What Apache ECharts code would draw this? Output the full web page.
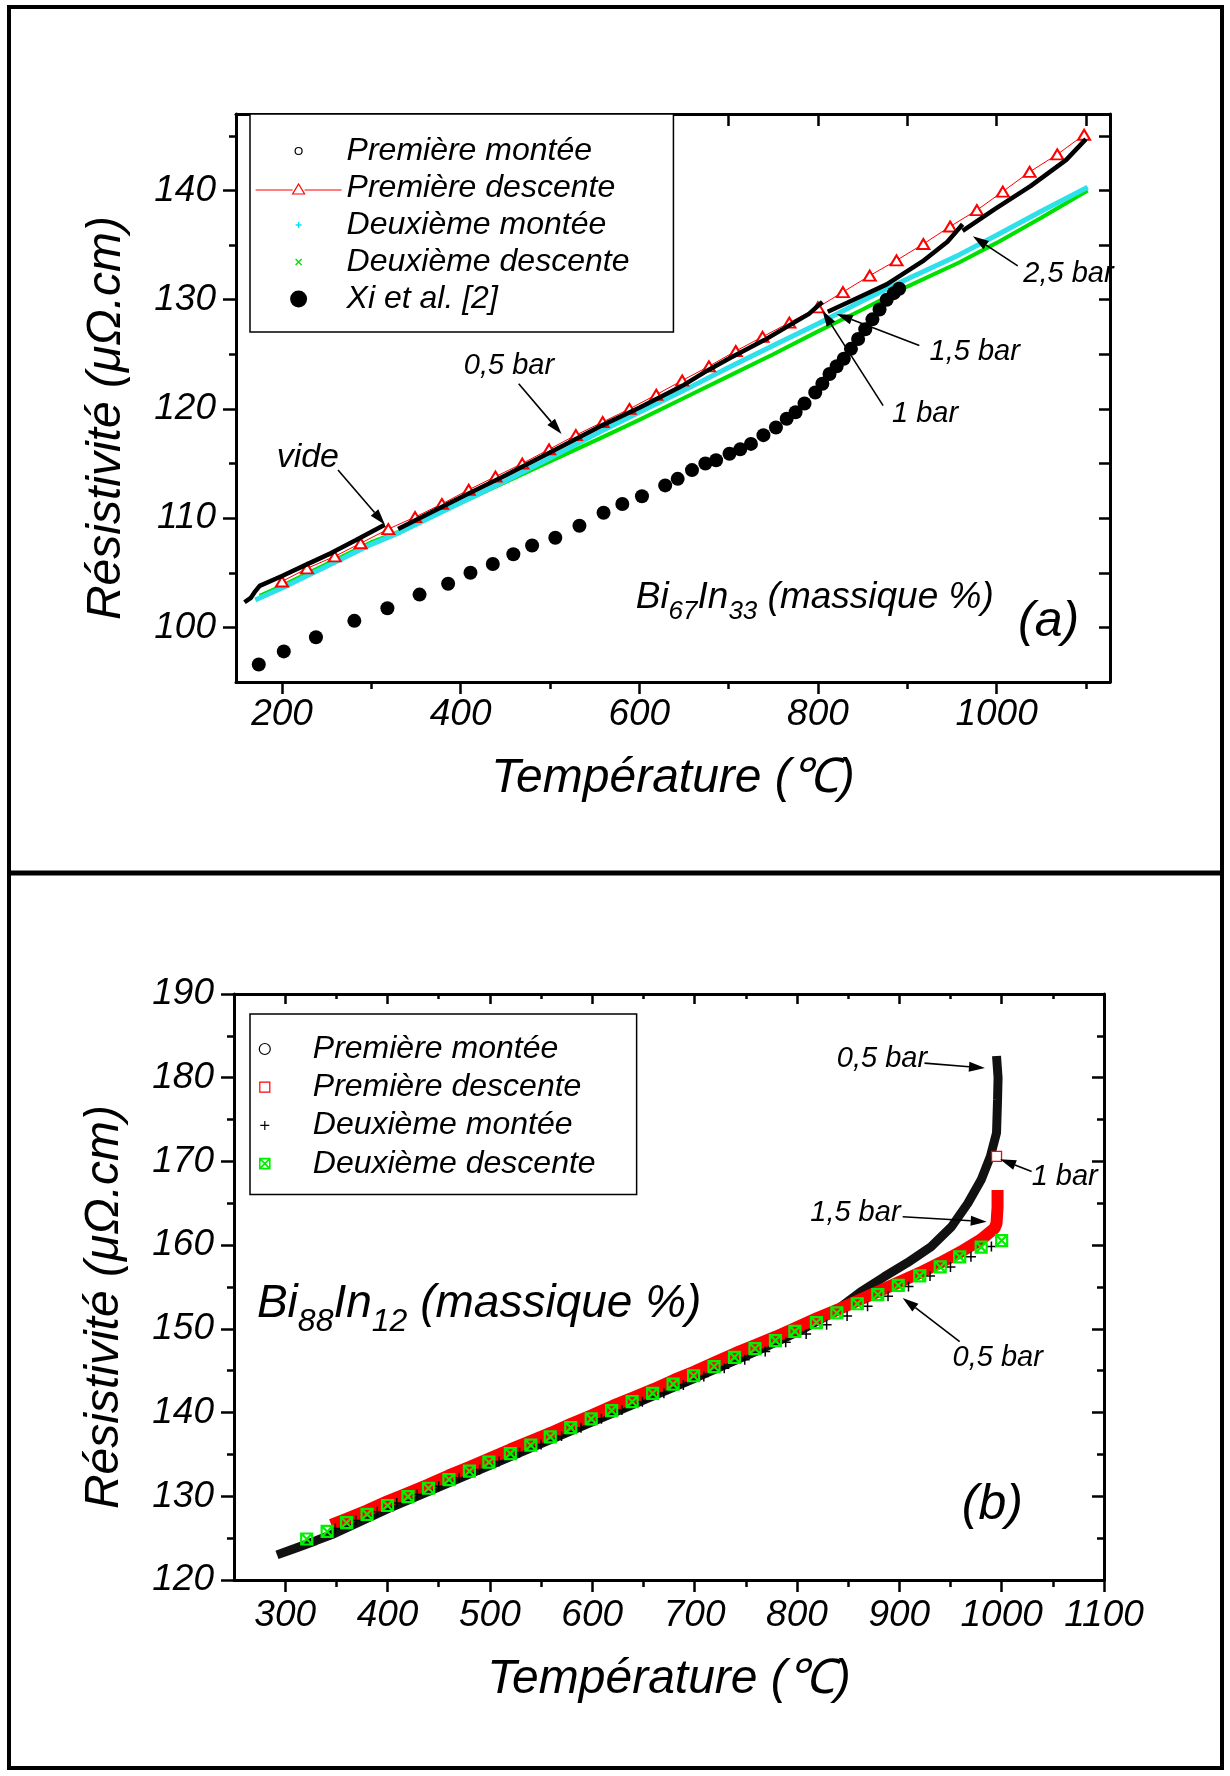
<!DOCTYPE html>
<html>
<head>
<meta charset="utf-8">
<title>Résistivité – Bi67In33 / Bi88In12</title>
<script src="https://cdn.jsdelivr.net/npm/echarts@6.0.0/dist/echarts.min.js"></script>
<style>
html,body{margin:0;padding:0;background:#fff;}
#chart{width:1230px;height:1776px;}
</style>
</head>
<body>
<div id="chart"></div>
<script>
// ================= DATA : panel (a) Bi67In33 =================
const aXMajor = [200, 400, 600, 800, 1000];
const aXMinor = [300, 500, 700, 900, 1100];
const aYMajor = [100, 110, 120, 130, 140];
const aYMinor = [105, 115, 125, 135, 145];

const aMontee1Seg1 = [[158,102.3],[165,102.7],[170,103.3],[175,103.8],[200,104.7],[226,105.7],[255,106.8],[283,108.0],[315,109.4]];
const aMontee1Seg2 = [[330,109.0],[400,111.9],[450,113.9],[500,116.0],[556,118.4],[600,120.1],[650,122.2],[676,123.5],[700,124.6],[740,126.3],[767,127.6],[790,128.7],[805,129.8]];
const aMontee1Seg3 = [[811,128.9],[840,130.0],[877,131.4],[917,133.5],[945,135.3],[962,136.9]];
const aMontee1Seg4 = [[962,136.3],[998,138.3],[1038,140.4],[1078,142.8],[1100,144.7]];

const aDescente1 = [[200,104.2],[228,105.4],[259,106.5],[288,107.7],[319,109.0],[349,110.1],[379,111.3],[409,112.6],[439,113.8],[469,115.0],[499,116.3],[529,117.6],[559,118.8],[589,120.0],[619,121.3],[648,122.6],[678,123.9],[708,125.3],[738,126.6],[768,127.9],[800,129.3],[828,130.7],[858,132.2],[888,133.6],[918,135.1],[948,136.7],[978,138.2],[1007,139.9],[1037,141.7],[1068,143.3],[1098,145.1]];

const aMontee2 = [[170,102.5],[200,103.6],[250,105.6],[300,107.6],[332,108.7],[400,111.4],[450,113.4],[500,115.5],[556,117.9],[600,119.7],[650,121.7],[700,123.8],[750,125.8],[800,127.8],[850,129.9],[900,131.9],[958,134.1],[1000,135.9],[1050,138.1],[1102,140.3]];
const aDescente2 = [[175,102.9],[200,103.8],[250,105.8],[300,107.8],[332,108.8],[400,111.4],[450,113.3],[500,115.2],[556,117.3],[600,119.0],[650,121.0],[700,123.0],[750,125.0],[800,127.1],[850,129.1],[900,131.2],[958,133.4],[1000,135.2],[1050,137.5],[1102,140.0]];

const aXi = [[174,96.6],[202,97.8],[238,99.1],[281,100.6],[318,101.75],[354,103.0],[386,104.0],[411,105.0],[436,105.8],[459,106.7],[480,107.5],[506,108.2],[533,109.3],[560,110.5],[581,111.3],[603,112.0],[629,113.0],[643,113.6],[659,114.4],[674,115.0],[686,115.3],[701,115.9],[713,116.3],[725,116.8],[739,117.6],[753,118.3],[765,119.1],[775,119.7],[785,120.5],[797,121.5],[805,122.3],[813,123.2],[821,123.9],[829,124.6],[837,125.5],[845,126.4],[853,127.3],[861,128.2],[869,129.1],[877,130.0],[885,130.6],[891,131.0]];

// ================= DATA : panel (b) Bi88In12 =================
const bXMajor = [300, 400, 500, 600, 700, 800, 900, 1000, 1100];
const bXMinor = [350, 450, 550, 650, 750, 850, 950, 1050];
const bYMajor = [120, 130, 140, 150, 160, 170, 180, 190];
const bYMinor = [125, 135, 145, 155, 165, 175, 185];

const bMontee1 = [[292,123.0],[310,123.8],[330,124.7],[345,125.4],[400,128.5],[500,133.7],[600,138.9],[700,144.1],[760,147.3],[800,149.6],[836,152.0],[862,154.4],[885,156.2],[908,157.9],[931,159.8],[951,162.2],[967,165.0],[980,167.8],[989,170.6],[995,173.4],[996,177.4],[996.5,180.0],[995,182.6]];
const bDescente1 = [[345,126.6],[360,127.3],[380,128.3],[400,129.4],[420,130.4],[440,131.4],[460,132.5],[480,133.5],[500,134.55],[520,135.6],[540,136.6],[560,137.6],[580,138.7],[600,139.7],[620,140.8],[640,141.8],[660,142.8],[680,143.9],[700,144.9],[720,146.0],[740,147.1],[760,148.1],[780,149.1],[800,150.2],[820,151.3],[840,152.3],[860,153.4],[880,154.5],[900,155.6],[920,156.7],[940,157.9],[960,159.2],[980,160.7],[993,162.0],[995,162.6],[996,164.5],[996,166.6]];
const bDescente1Jump = [[995,170.6]];
const bMontee2 = [[349,126.15],[369,127.1],[390,128.14],[409,129.2],[429,130.2],[450,131.2],[470,132.2],[490,133.2],[509,134.15],[529,135.2],[550,136.2],[570,137.2],[589,138.2],[609,139.25],[629,140.3],[649,141.3],[670,142.3],[689,143.3],[709,144.3],[729,145.3],[749,146.3],[769,147.3],[789,148.4],[809,149.4],[829,150.5],[849,151.55],[869,152.7],[889,153.9],[909,155.05],[930,156.3],[950,157.4],[970,158.6],[990,159.83]];
const bDescente2 = [[321,124.9],[341,125.8],[360,126.85],[380,127.85],[400,128.9],[420,129.96],[440,130.96],[460,132.0],[480,133.0],[499,134.07],[520,135.1],[540,136.1],[559,137.1],[579,138.2],[599,139.25],[619,140.24],[639,141.3],[659,142.3],[679,143.4],[699,144.4],[719,145.5],[739,146.6],[759,147.65],[779,148.6],[798,149.7],[819,150.75],[839,151.9],[859,153.0],[879,154.1],[899,155.2],[920,156.33],[940,157.4],[959,158.6],[980,159.76],[1000,160.55]];

// ================= styling / layout =================
const FONT = "'Liberation Sans', Arial, Helvetica, sans-serif";
const TICK_FS = 37;

const chart = echarts.init(document.getElementById('chart'), null, {renderer: 'canvas', width: 1230, height: 1776});

const labelStyle = {fontSize: TICK_FS, fontStyle: 'italic', fontFamily: FONT, color: '#000', formatter: function (v) { return String(v); }};
const nameStyle = {fontSize: 48, fontStyle: 'italic', fontFamily: FONT, color: '#000'};
const tickLine = {color: '#000', width: 2.5};
const axisLineStyle = {show: true, onZero: false, lineStyle: {color: '#000', width: 3}};

function xAxesFor(grid, min, max, major, minor, o) {
  const c = {type: 'value', gridIndex: grid, min: min, max: max, splitLine: {show: false}, axisPointer: {show: false}};
  return [
    Object.assign({}, c, {position: 'bottom', name: 'Température (℃)', nameLocation: 'middle', nameGap: o.nameGap,
      nameTextStyle: nameStyle, axisLine: axisLineStyle,
      axisTick: {show: true, inside: false, length: 12, customValues: major, lineStyle: tickLine},
      axisLabel: Object.assign({show: true, customValues: major, margin: o.labelMargin}, labelStyle)}),
    Object.assign({}, c, {position: 'bottom', axisLine: {show: false},
      axisTick: {show: true, inside: false, length: 7, customValues: minor, lineStyle: tickLine}, axisLabel: {show: false}}),
    Object.assign({}, c, {position: 'top', axisLine: axisLineStyle,
      axisTick: {show: true, inside: true, length: o.topMajor, customValues: major, lineStyle: tickLine}, axisLabel: {show: false}}),
    Object.assign({}, c, {position: 'top', axisLine: {show: false},
      axisTick: {show: true, inside: true, length: o.topMinor, customValues: minor, lineStyle: tickLine}, axisLabel: {show: false}})
  ];
}
function yAxesFor(grid, min, max, major, minor, o) {
  const c = {type: 'value', gridIndex: grid, min: min, max: max, splitLine: {show: false}, axisPointer: {show: false}};
  return [
    Object.assign({}, c, {position: 'left', name: 'Résistivité (μΩ.cm)', nameLocation: 'middle', nameGap: o.nameGap,
      nameTextStyle: Object.assign({padding: [0, 40, 0, 0]}, nameStyle), axisLine: axisLineStyle,
      axisTick: {show: true, inside: false, length: 13, customValues: major, lineStyle: tickLine},
      axisLabel: Object.assign({show: true, customValues: major, margin: o.labelMargin}, labelStyle)}),
    Object.assign({}, c, {position: 'left', axisLine: {show: false},
      axisTick: {show: true, inside: false, length: 7, customValues: minor, lineStyle: tickLine}, axisLabel: {show: false}}),
    Object.assign({}, c, {position: 'right', axisLine: axisLineStyle,
      axisTick: {show: true, inside: true, length: o.rightMajor, customValues: major, lineStyle: tickLine}, axisLabel: {show: false}}),
    Object.assign({}, c, {position: 'right', axisLine: {show: false},
      axisTick: {show: true, inside: true, length: o.rightMinor, customValues: minor, lineStyle: tickLine}, axisLabel: {show: false}})
  ];
}

// legend icons (frame 0..18 so that they keep their true pixel size)
const F = 'M0,0M18,18';
const ICON = {
  ringS: 'path://' + F + 'M12.5,9A3.5,3.5,0,1,1,5.5,9A3.5,3.5,0,1,1,12.5,9Z',
  triLine: 'path://M0,0M86,18M0,11L37,11M49,11L86,11M43,5L49,15L37,15Z',
  plusS: 'path://' + F + 'M9,6L9,12M6,9L12,9',
  crossS: 'path://' + F + 'M6,6L12,12M12,6L6,12',
  dotL: 'path://' + F + 'M17.5,9A8.5,8.5,0,1,1,0.5,9A8.5,8.5,0,1,1,17.5,9Z',
  ringM: 'path://' + F + 'M14.5,9A5.5,5.5,0,1,1,3.5,9A5.5,5.5,0,1,1,14.5,9Z',
  square: 'path://' + F + 'M4,4L14,4L14,14L4,14Z',
  plusM: 'path://' + F + 'M9,4.5L9,13.5M4.5,9L13.5,9',
  boxX: 'path://' + F + 'M4,4L14,4L14,14L4,14ZM4,4L14,14M14,4L4,14'
};
const SYM = {
  plus: 'path://M0,5L10,5M5,0L5,10',
  boxX: 'path://M0,0L10,0L10,10L0,10ZM0,0L10,10M10,0L0,10'
};
const clear = 'rgba(0,0,0,0)';
const legendText = {fontSize: 32, fontStyle: 'italic', fontFamily: FONT, color: '#000'};

const option = {
  animation: false,
  backgroundColor: '#fff',
  grid: [
    {left: 236, top: 114, width: 874, height: 568, containLabel: false},
    {left: 234, top: 994, width: 870, height: 586, containLabel: false}
  ],
  xAxis: [].concat(
    xAxesFor(0, 148.5, 1127, aXMajor, aXMinor, {nameGap: 73, labelMargin: 14, topMajor: 12, topMinor: 12}),
    xAxesFor(1, 250, 1100, bXMajor, bXMinor, {nameGap: 76, labelMargin: 17, topMajor: 10, topMinor: 5})
  ),
  yAxis: [].concat(
    yAxesFor(0, 95, 147, aYMajor, aYMinor, {nameGap: 105, labelMargin: 20, rightMajor: 11, rightMinor: 11}),
    yAxesFor(1, 120, 190, bYMajor, bYMinor, {nameGap: 105, labelMargin: 20, rightMajor: 12, rightMinor: 7})
  ),
  legend: [
    {
      left: 250, top: 114, orient: 'vertical', selectedMode: false,
      itemWidth: 86, itemHeight: 18, itemGap: 1,
      padding: [19, 44, 15, 5],
      backgroundColor: '#fff', borderColor: '#000', borderWidth: 1.5,
      textStyle: Object.assign({lineHeight: 36}, legendText),
      data: [
        {name: 'Première montée', icon: ICON.ringS, itemStyle: {color: clear, borderColor: '#000', borderWidth: 1.2}},
        {name: 'Première descente', icon: ICON.triLine, itemStyle: {color: clear, borderColor: '#ff0000', borderWidth: 1.2}},
        {name: 'Deuxième montée', icon: ICON.plusS, itemStyle: {color: clear, borderColor: '#00e5ff', borderWidth: 1.5}},
        {name: 'Deuxième descente', icon: ICON.crossS, itemStyle: {color: clear, borderColor: '#00dd00', borderWidth: 1.3}},
        {name: 'Xi et al. [2]', icon: ICON.dotL, itemStyle: {color: '#000', borderWidth: 0, opacity: 1}}
      ]
    },
    {
      left: 250, top: 1014, orient: 'vertical', selectedMode: false,
      itemWidth: 86, itemHeight: 18, itemGap: 0.2,
      padding: [16, 41, 12, 5],
      backgroundColor: '#fff', borderColor: '#000', borderWidth: 1.5,
      textStyle: Object.assign({lineHeight: 38}, legendText),
      data: [
        {name: 'Première montée', icon: ICON.ringM, itemStyle: {color: clear, borderColor: '#000', borderWidth: 1.2}},
        {name: 'Première descente', icon: ICON.square, itemStyle: {color: clear, borderColor: '#ff0000', borderWidth: 1.2}},
        {name: 'Deuxième montée', icon: ICON.plusM, itemStyle: {color: clear, borderColor: '#000', borderWidth: 1.2}},
        {name: 'Deuxième descente', icon: ICON.boxX, itemStyle: {color: clear, borderColor: '#00ee00', borderWidth: 1.6}}
      ]
    }
  ],
  series: [
    // ---- panel (a)
    {name: 'Deuxième descente', type: 'line', xAxisIndex: 0, yAxisIndex: 0, data: aDescente2, symbol: 'none',
      color: '#00dd00', lineStyle: {color: '#00e000', width: 4}},
    {name: 'Deuxième montée', type: 'line', xAxisIndex: 0, yAxisIndex: 0, data: aMontee2, symbol: 'none',
      color: '#22e0ee', lineStyle: {color: '#2ee0ea', width: 5}},
    {name: 'Première descente', type: 'line', xAxisIndex: 0, yAxisIndex: 0, data: aDescente1,
      symbol: 'emptyTriangle', symbolSize: [12, 10], showAllSymbol: true, color: '#ff0000',
      itemStyle: {color: '#ff0000', borderWidth: 1.2}, lineStyle: {color: '#ff0000', width: 1}, z: 3},
    {name: 'Première montée', type: 'line', xAxisIndex: 0, yAxisIndex: 0, data: aMontee1Seg1, symbol: 'none', color: '#000', lineStyle: {color: '#000', width: 4.5}, z: 4},
    {name: 'Première montée', type: 'line', xAxisIndex: 0, yAxisIndex: 0, data: aMontee1Seg2, symbol: 'none', color: '#000', lineStyle: {color: '#000', width: 4.5}, z: 4},
    {name: 'Première montée', type: 'line', xAxisIndex: 0, yAxisIndex: 0, data: aMontee1Seg3, symbol: 'none', color: '#000', lineStyle: {color: '#000', width: 4.5}, z: 4},
    {name: 'Première montée', type: 'line', xAxisIndex: 0, yAxisIndex: 0, data: aMontee1Seg4, symbol: 'none', color: '#000', lineStyle: {color: '#000', width: 4.5}, z: 4},
    {name: 'Xi et al. [2]', type: 'scatter', xAxisIndex: 0, yAxisIndex: 0, data: aXi, symbol: 'circle', symbolSize: 14,
      itemStyle: {color: '#000', opacity: 1}, z: 5},
    // ---- panel (b)
    {name: 'Première montée', type: 'line', xAxisIndex: 4, yAxisIndex: 4, data: bMontee1, symbol: 'none',
      color: '#000', lineStyle: {color: '#111', width: 9}, z: 2},
    {name: 'Première descente', type: 'line', xAxisIndex: 4, yAxisIndex: 4, data: bDescente1, symbol: 'none',
      color: '#ff0000', lineStyle: {color: '#ff0000', width: 12}, z: 3},
    {name: 'Première descente', type: 'scatter', xAxisIndex: 4, yAxisIndex: 4, data: bDescente1Jump, symbol: 'rect', symbolSize: 10,
      itemStyle: {color: '#fff', borderColor: '#ff0000', borderWidth: 1.3, opacity: 1}, z: 4},
    {name: 'Deuxième montée', type: 'scatter', xAxisIndex: 4, yAxisIndex: 4, data: bMontee2, symbol: SYM.plus, symbolSize: 10,
      itemStyle: {color: clear, borderColor: '#000', borderWidth: 1.5, opacity: 1}, z: 10},
    {name: 'Deuxième descente', type: 'scatter', xAxisIndex: 4, yAxisIndex: 4, data: bDescente2, symbol: SYM.boxX, symbolSize: 11,
      itemStyle: {color: clear, borderColor: '#00f000', borderWidth: 2.2, opacity: 1}, z: 11}
  ]
};
chart.setOption(option);

// ================= annotations (in data coordinates) =================
const notesA = [
  {parts: [['vide', 34, 0]], at: [194, 114.5], from: [262.7, 114.4], to: [315.3, 109.4]},
  {parts: [['0,5 bar', 29, 0]], at: [403.5, 123.0], from: [465, 122.3], to: [513, 117.7]},
  {parts: [['1,5 bar', 29, 0]], at: [925, 124.3], from: [913.5, 125.8], to: [821, 128.7]},
  {parts: [['1 bar', 29, 0]], at: [883, 118.6], from: [873, 120.3], to: [805, 129.0]},
  {parts: [['2,5 bar', 29, 0]], at: [1030, 131.4], from: [1023.7, 133.1], to: [973.4, 135.8]},
  {parts: [['Bi', 37, 0], ['67', 26, 10], ['In', 37, 0], ['33', 26, 10], [' (massique %)', 37, 0]], at: [596, 101.5]},
  {parts: [['(a)', 50, 0]], at: [1024, 98.9]}
];
const notesB = [
  {parts: [['0,5 bar', 29, 0]], at: [839, 181.06], from: [924.6, 181.74], to: [983.7, 181.15]},
  {parts: [['1 bar', 29, 0]], at: [1029.3, 166.94], from: [1029.3, 168.79], to: [998.5, 170.27]},
  {parts: [['1,5 bar', 29, 0]], at: [813, 162.66], from: [903.3, 163.4], to: [985.4, 162.8]},
  {parts: [['0,5 bar', 29, 0]], at: [952, 145.34], from: [959, 148.48], to: [903.3, 153.7]},
  {parts: [['Bi', 46, 0], ['88', 32, 13], ['In', 46, 0], ['12', 32, 13], [' (massique %)', 46, 0]], at: [272.4, 151.0]},
  {parts: [['(b)', 50, 0]], at: [961, 126.8]}
];

const mctx = document.createElement('canvas').getContext('2d');
function textWidth(s, size) { mctx.font = 'italic ' + size + 'px ' + FONT; return mctx.measureText(s).width; }

const elements = [
  {type: 'rect', id: 'frame', shape: {x: 9, y: 7, width: 1213, height: 1761}, style: {fill: 'none', stroke: '#000', lineWidth: 4}, z: 100},
  {type: 'line', id: 'divider', shape: {x1: 9, y1: 873, x2: 1222, y2: 873}, style: {stroke: '#000', lineWidth: 5}, z: 100}
];
function addNotes(notes, finder, prefix) {
  notes.forEach(function (n, i) {
    const p = chart.convertToPixel(finder, n.at);
    let x = p[0];
    n.parts.forEach(function (part, j) {
      const s = part[0], fs = part[1], dy = part[2];
      elements.push({type: 'text', id: prefix + i + '_' + j, x: x, y: p[1] + dy - 0.35 * fs, z: 50,
        style: {text: s, fill: '#000', font: 'italic ' + fs + 'px ' + FONT, textAlign: 'left', textVerticalAlign: 'middle'}});
      x += textWidth(s, fs);
    });
    if (n.from) {
      const a = chart.convertToPixel(finder, n.from);
      const b = chart.convertToPixel(finder, n.to);
      const dx = b[0] - a[0], dyy = b[1] - a[1];
      const L = Math.sqrt(dx * dx + dyy * dyy);
      const ux = dx / L, uy = dyy / L;
      const hl = 16, hw = 5;
      const bx = b[0] - ux * hl, by = b[1] - uy * hl;
      elements.push({type: 'line', id: prefix + i + '_l', z: 50, shape: {x1: a[0], y1: a[1], x2: bx, y2: by}, style: {stroke: '#000', lineWidth: 1.6}});
      elements.push({type: 'polygon', id: prefix + i + '_h', z: 50,
        shape: {points: [[b[0], b[1]], [bx - uy * hw, by + ux * hw], [bx + uy * hw, by - ux * hw]]}, style: {fill: '#000'}});
    }
  });
}
addNotes(notesA, {xAxisIndex: 0, yAxisIndex: 0}, 'na');
addNotes(notesB, {xAxisIndex: 4, yAxisIndex: 4}, 'nb');
chart.setOption({graphic: {elements: elements}});
</script>
</body>
</html>
